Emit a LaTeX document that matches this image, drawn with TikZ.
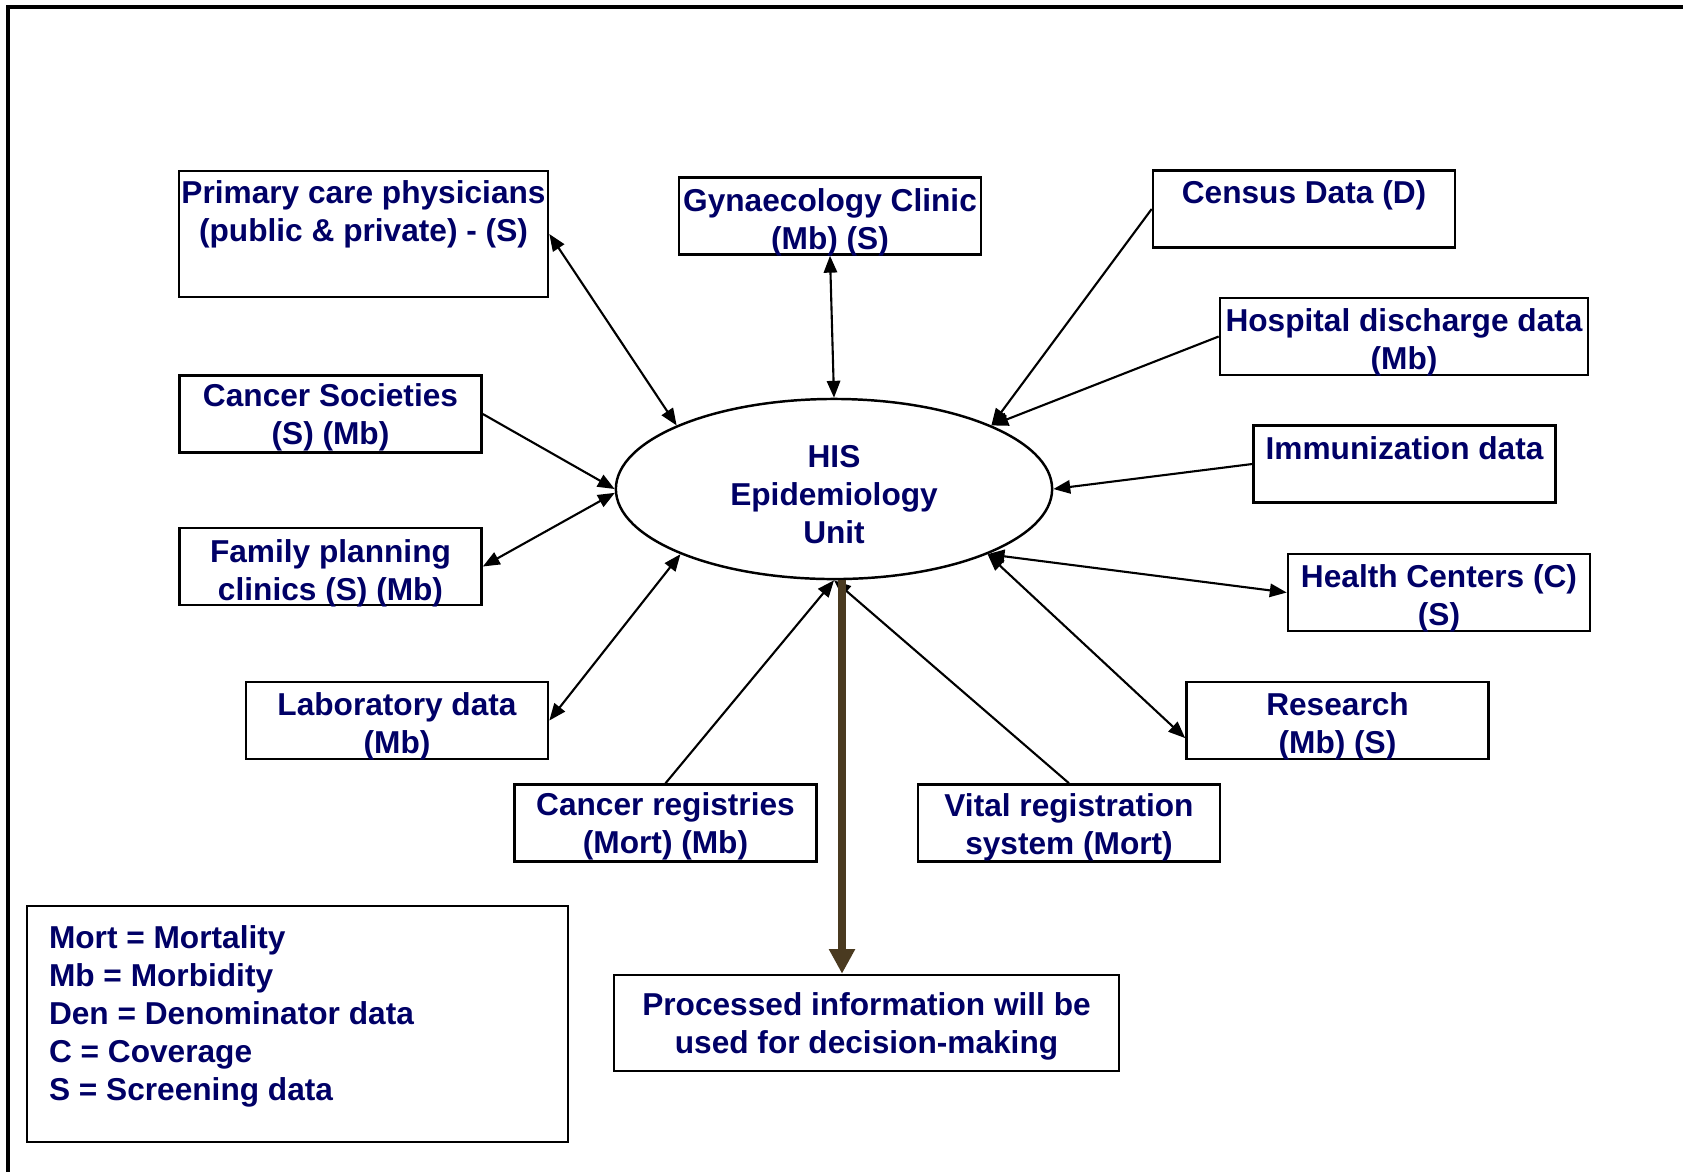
\documentclass[tikz,border=0pt]{standalone}
\usepackage{fontspec}
\setmainfont{Liberation Sans}
\usetikzlibrary{shapes,arrows.meta,positioning}
\definecolor{HISNavy}{RGB}{0,0,102}
\definecolor{HISBrown}{RGB}{74,58,32}
\newcommand{\hisfont}{\fontsize{9pt}{10.8pt}\selectfont\bfseries}

\tikzset{
  srcbox/.style={rectangle,draw,line width=0.7pt,inner sep=0pt,minimum width=3.02cm,minimum height=0.77cm},
  srctext/.style={text=HISNavy,font=\hisfont,align=center},
  link/.style={line width=0.6pt,>={Triangle[length=4.8pt,width=3.8pt]}},
}

\begin{document}
\begin{tikzpicture}[x=0.01cm,y=-0.01cm]
    \useasboundingbox (0,0) rectangle (1683,1172);
    % page frame
    \draw[line width=0.9pt] (1683,7) -- (8,7) -- (8,1172);

    \node[ellipse,draw,line width=0.7pt,minimum width=4.36cm,minimum height=1.80cm,inner sep=0pt,label={[srctext,yshift=-0.055cm]center:{HIS\\Epidemiology\\Unit}}] (hub) at (834,489) {};

    % sources, left side
    \node[srcbox,minimum width=3.69cm,minimum height=1.26cm,label={[srctext,yshift=0.195cm]center:{Primary care physicians\\(public \& private) - (S)}}] (primary) at (363.5,234) {};
    \node[srcbox,label={[srctext,yshift=-0.035cm]center:{Cancer Societies\\(S) (Mb)}}] (societies) at (330.5,414) {};
    \node[srcbox,label={[srctext,yshift=-0.065cm]center:{Family planning\\clinics (S) (Mb)}}] (family) at (330.5,566.5) {};
    \node[srcbox,label={[srctext,yshift=-0.06cm]center:{Laboratory data\\(Mb)}}] (lab) at (397,720.5) {};
    \node[srcbox,label={[srctext,yshift=-0.035cm]center:{Cancer registries\\(Mort) (Mb)}}] (registries) at (665.5,823) {};

    % sources, top and right side
    \node[srcbox,label={[srctext,yshift=-0.065cm]center:{Gynaecology Clinic\\(Mb) (S)}}] (gyn) at (830,216) {};
    \node[srcbox,label={[srctext,yshift=0.135cm]center:{Census Data (D)}}] (census) at (1304,209) {};
    \node[srcbox,minimum width=3.68cm,label={[srctext,yshift=-0.055cm]center:{Hospital discharge data\\(Mb)}}] (hospital) at (1404,336.5) {};
    \node[srcbox,label={[srctext,yshift=0.155cm]center:{Immunization data}}] (immun) at (1404.5,464) {};
    \node[srcbox,label={[srctext,yshift=-0.055cm]center:{Health Centers (C)\\(S)}}] (health) at (1439,592.5) {};
    \node[srcbox,label={[srctext,yshift=-0.055cm]center:{Research\\(Mb) (S)}}] (research) at (1337.5,720.5) {};
    \node[srcbox,label={[srctext,yshift=-0.04cm]center:{Vital registration\\system (Mort)}}] (vital) at (1069,823) {};

    % output and legend
    \node[srcbox,minimum width=5.05cm,minimum height=0.96cm,label={[srctext,yshift=-0.035cm]center:{Processed information will be\\used for decision-making}}] (proc) at (866.5,1023) {};
    \node[srcbox,minimum width=5.41cm,minimum height=2.36cm,label={[srctext,align=left,xshift=-0.66cm,yshift=0.075cm]center:{Mort = Mortality\\Mb = Morbidity\\Den = Denominator data\\C = Coverage\\S = Screening data}}] (legend) at (297.5,1024) {};

    \draw[link,<->] (primary.east) -- (hub.158);
    \draw[link,->] (societies.east) -- (hub.west);
    \draw[link,<->] (family.east) -- (hub.181);
    \draw[link,<->] (lab.east) -- (hub.203);
    \draw[link,->] (registries.north) -- (hub.south);
    \draw[link,<->] (gyn.south) -- (hub.north);
    \draw[link,->] (census.west) -- (hub.22);
    \draw[link,->] (hospital.west) -- (hub.22);
    \draw[link,->] (immun.west) -- (hub.east);
    \draw[link,<->] (health.west) -- (hub.337);
    \draw[link,<->] ([yshift=-5pt]research.west) -- (hub.337);
    \draw[link,->] (vital.north) -- (hub.south);

    \draw[line width=2.4pt,color=HISBrown,-{Triangle[length=7pt,width=7pt]}] ([xshift=0.08cm]hub.south) -- ([xshift=0.08cm]hub.south |- proc.north);
\end{tikzpicture}
\end{document}
